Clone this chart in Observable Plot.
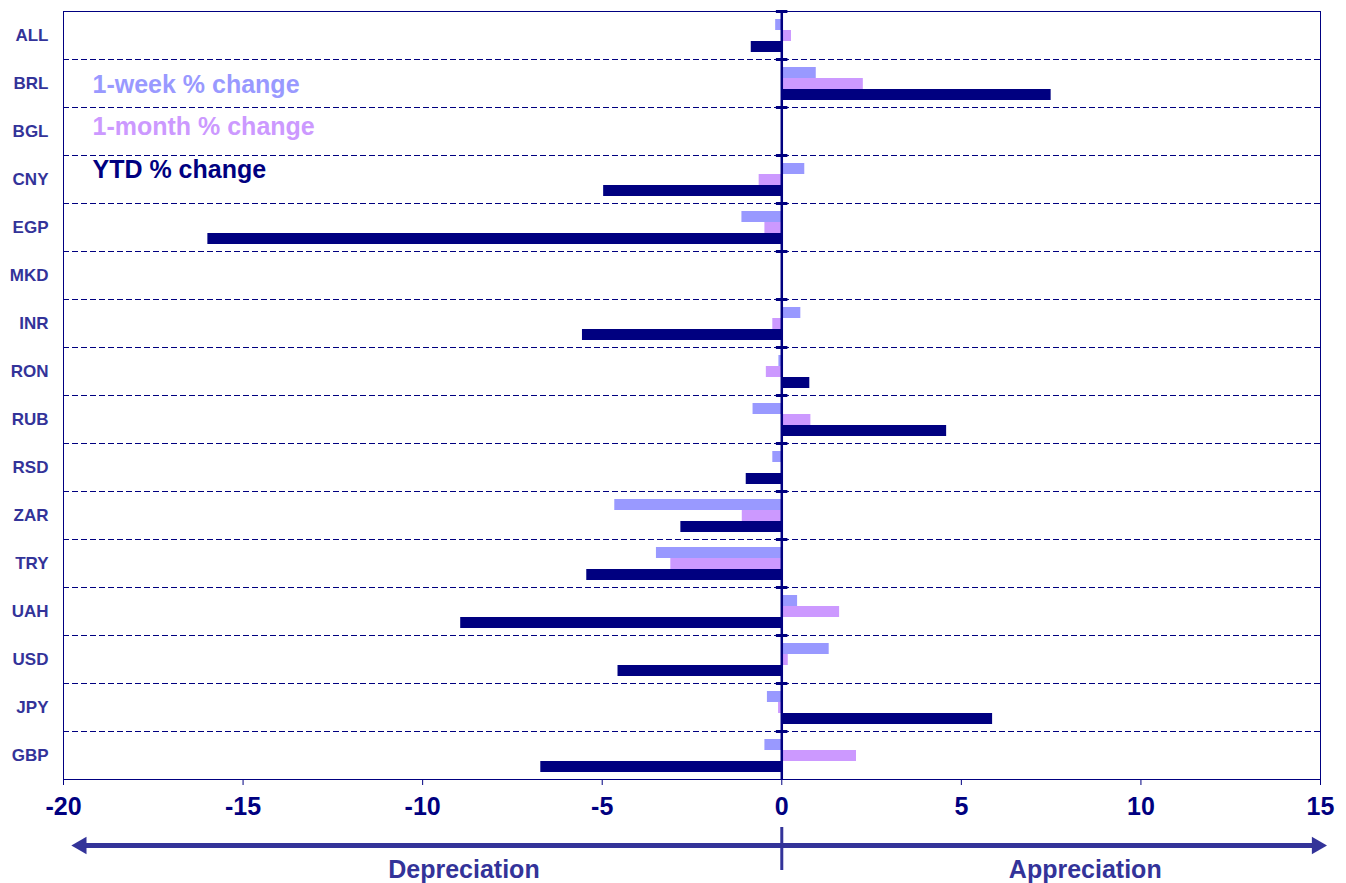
<!DOCTYPE html>
<html>
<head>
<meta charset="utf-8">
<script src="https://cdn.jsdelivr.net/npm/d3@7"></script>
<script src="https://cdn.jsdelivr.net/npm/@observablehq/plot@0.6"></script>
<style>
  html, body { margin: 0; padding: 0; background: #ffffff; }
  #chart svg { display: block; }
</style>
</head>
<body>
<div id="chart"></div>
<script>
// ---- data ----
const currencies = ["ALL","BRL","BGL","CNY","EGP","MKD","INR","RON","RUB","RSD","ZAR","TRY","UAH","USD","JPY","GBP"];
const weekChange  = [-0.17, 0.96, 0, 0.64, -1.11, 0, 0.53, -0.08, -0.80, -0.25, -4.65, -3.49, 0.44, 1.32, -0.40, -0.47];
const monthChange = [ 0.27, 2.27, 0, -0.63, -0.47, 0, -0.25, -0.43, 0.81, 0, -1.10, -3.09, 1.61, 0.18, -0.09, 2.08];
const ytdChange   = [-0.85, 7.50, 0, -4.96, -15.98, 0, -5.55, 0.78, 4.59, -0.99, -2.81, -5.43, -8.94, -4.56, 5.87, -6.71];
const seriesNames = ["1-week % change", "1-month % change", "YTD % change"];
const xTicks = [-20, -15, -10, -5, 0, 5, 10, 15];
const directionLabels = ["Depreciation", "Appreciation"];
const directionCentres = [-8.85, 8.45];
const arrowEnds = [-19.5, 14.9];

// ---- style ----
const colWeek = "#9999ff", colMonth = "#cc99ff", colYtd = "#000080";
const navy = "#000080", slate = "#333399";
const font = "'Liberation Sans', Arial, Helvetica, sans-serif";
const W = 1346, mL = 63, mR = 26;

const rows = currencies.map((c, i) => ({c, week: weekChange[i], month: monthChange[i], ytd: ytdChange[i]}));

const main = Plot.plot({
  width: W,
  height: 825,
  marginLeft: mL,
  marginRight: mR,
  marginTop: 11,
  marginBottom: 46,
  style: {fontFamily: font, background: "white", overflow: "visible"},
  x: {domain: [-20, 15], label: null},
  y: {domain: currencies, padding: 0, label: null},
  marks: [
    Plot.ruleY(currencies.slice(1), {dy: -24, stroke: navy, strokeWidth: 1, strokeDasharray: "6,3"}),
    Plot.barX(rows, {y: "c", x1: 0, x2: "week", fill: colWeek, insetTop: 8, insetBottom: 29}),
    Plot.barX(rows, {y: "c", x1: 0, x2: "month", fill: colMonth, insetTop: 19, insetBottom: 18}),
    Plot.barX(rows, {y: "c", x1: 0, x2: "ytd", fill: colYtd, insetTop: 30, insetBottom: 7}),
    Plot.frame({stroke: navy, strokeWidth: 1}),
    Plot.ruleX([0], {stroke: navy, strokeWidth: 2.5}),
    Plot.ruleY(currencies, {dy: -24, x1: -0.15, x2: 0.17, stroke: navy, strokeWidth: 3}),
    Plot.axisX({ticks: xTicks, tickFormat: d => String(d), tickSize: 6, tickPadding: 12,
      fontSize: 25, fontWeight: "bold", color: navy, label: null}),
    Plot.axisY({tickSize: 0, tickPadding: 15, fontSize: 17, fontWeight: "bold", color: slate, label: null}),
    Plot.text([seriesNames[0]], {frameAnchor: "top-left", dx: 29, dy: 73, text: d => d,
      textAnchor: "start", lineAnchor: "middle", fontSize: 25, fontWeight: "bold", fill: colWeek}),
    Plot.text([seriesNames[1]], {frameAnchor: "top-left", dx: 29, dy: 115, text: d => d,
      textAnchor: "start", lineAnchor: "middle", fontSize: 25, fontWeight: "bold", fill: colMonth}),
    Plot.text([seriesNames[2]], {frameAnchor: "top-left", dx: 29, dy: 158, text: d => d,
      textAnchor: "start", lineAnchor: "middle", fontSize: 25, fontWeight: "bold", fill: colYtd})
  ]
});

// annotation strip under the chart (same x scale)
const annY = {arrow: 20, divTop: 2, divBottom: 45, label: 52};
const arrows = arrowEnds.map((x, i) => ({x, rotate: i === 0 ? -90 : 90}));
const labels = directionLabels.map((t, i) => ({t, x: directionCentres[i]}));

const strip = Plot.plot({
  width: W,
  height: 58,
  marginLeft: mL,
  marginRight: mR,
  marginTop: 0,
  marginBottom: 0,
  style: {fontFamily: font, background: "white", overflow: "visible"},
  x: {domain: [-20, 15], axis: null},
  y: {type: "linear", domain: [0, 58], range: [0, 58], axis: null},
  marks: [
    Plot.ruleY([annY.arrow], {x1: arrowEnds[0], x2: arrowEnds[1], stroke: slate, strokeWidth: 5}),
    Plot.dot(arrows, {x: "x", y: () => annY.arrow, symbol: "triangle", r: 6.5, fill: slate, stroke: "none", rotate: "rotate"}),
    Plot.ruleX([0], {y1: annY.divTop, y2: annY.divBottom, stroke: slate, strokeWidth: 3}),
    Plot.text(labels, {x: "x", y: () => annY.label, text: "t", lineAnchor: "bottom",
      fontSize: 25, fontWeight: "bold", fill: slate})
  ]
});

const el = document.getElementById("chart");
el.appendChild(main);
el.appendChild(strip);
</script>
</body>
</html>
